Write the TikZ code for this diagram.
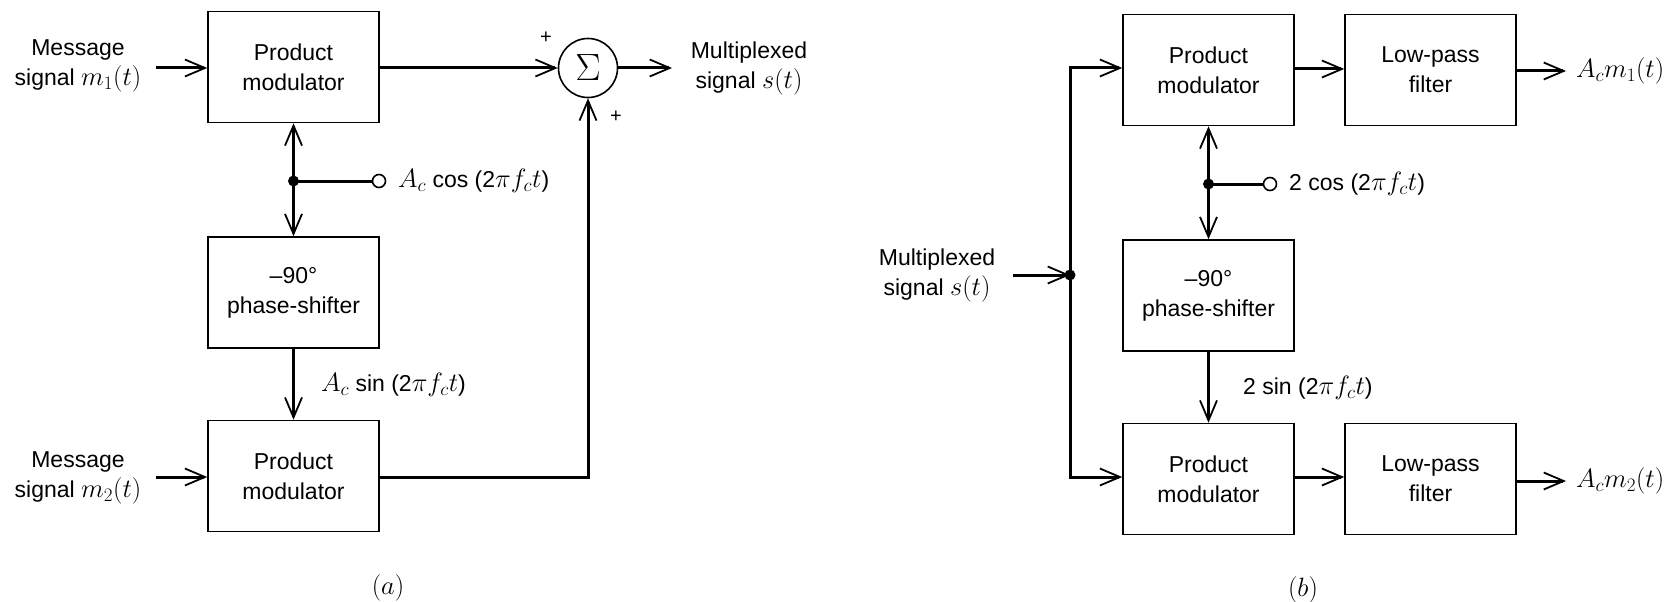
\documentclass[tikz,border=0pt]{standalone}
\usepackage{fix-cm}
\usepackage{fontspec}
\setmainfont{Liberation Sans}
\usetikzlibrary{arrows.meta}
\DeclareMathSizes{23}{26.5}{19}{15}
\newcommand\dgfont{\fontsize{23}{30}\selectfont}
\newcommand\dgsmall{\fontsize{20}{20}\selectfont}
\begin{document}
\begin{tikzpicture}[x=1pt,y=-1pt,
  >={Straight Barb[length=20pt,width=17pt,line width=1.8pt]},
  box/.style={draw, line width=1.6pt, minimum width=171pt, minimum height=111pt, inner sep=0pt, align=center, font=\dgfont},
  conn/.style={line width=3pt},
  txt/.style={font=\dgfont, inner sep=1pt, align=center},
  dot/.style={circle, fill, inner sep=0pt, minimum size=11pt},
  term/.style={circle, draw, fill=white, line width=1.6pt, inner sep=0pt, minimum size=13pt},
  sumnode/.style={circle, draw, line width=1.6pt, minimum size=59pt, inner sep=0pt, font=\fontsize{38}{38}\selectfont}]
\useasboundingbox (0,0) rectangle (1674,602);

% ---------- panel (a) ----------
\node[box] (pm1) at (293.5,67) {Product\\modulator};
\node[box] (ps1) at (293.5,292.5) {--90°\\phase-shifter};
\node[box] (pm2) at (293.5,476) {Product\\modulator};
\node[sumnode] (sum) at (588,68) {$\Sigma$};
\node[dot] (j1) at (293.5,181) {};
\node[term] (t1) at (379,181) {};

\node[txt] (m1) at (78,66) {Message\\signal $m_1(t)$};
\node[txt] (m2) at (78,478) {Message\\signal $m_2(t)$};
\node[txt] (sout) at (749,68) {Multiplexed\\signal $s(t)$};
\node[txt, anchor=west] (lc1) at (397,181) {$A_c$ cos (2$\pi f_c t$)};
\node[txt, anchor=west] (ls1) at (320,385) {$A_c$ sin (2$\pi f_c t$)};
\node[txt, font=\dgsmall] (p1) at (546,38) {+};
\node[txt, font=\dgsmall] (p2) at (616,117) {+};
\node[txt] (la) at (388,588) {$(a)$};

\coordinate (in1) at (156,68);
\coordinate (in2) at (156,477);
\coordinate (out1) at (672,68);

\draw[conn,->] (in1) -- (pm1.west |- in1);
\draw[conn,->] (in2) -- (pm2.west |- in2);
\draw[conn,->] (pm1.east |- sum) -- (sum.west);
\draw[conn,->] (sum.east) -- (out1);
\draw[conn,<->] (pm1.south) -- (ps1.north);
\draw[conn] (j1.center) -- (t1.west);
\draw[conn,->] (ps1.south) -- (pm2.north);
\draw[conn,->] (pm2.east |- in2) -| (sum.south);

% ---------- panel (b) ----------
\node[box] (pmb1) at (1208.5,70) {Product\\modulator};
\node[box] (lpf1) at (1430.5,70) {Low-pass\\filter};
\node[box] (psb) at (1208.5,295.5) {--90°\\phase-shifter};
\node[box] (pmb2) at (1208.5,479) {Product\\modulator};
\node[box] (lpf2) at (1430.5,479) {Low-pass\\filter};
\node[dot] (jb) at (1070,275) {};
\node[dot] (jb2) at (1208.5,184) {};
\node[term] (tb) at (1270,184) {};

\node[txt] (sin) at (937,275) {Multiplexed\\signal $s(t)$};
\node[txt, anchor=west] (lc2) at (1288,184) {2 cos (2$\pi f_c t$)};
\node[txt, anchor=west] (ls2) at (1242,388) {2 sin (2$\pi f_c t$)};
\node[txt, anchor=west] (o1) at (1575,71) {$A_c m_1(t)$};
\node[txt, anchor=west] (o2) at (1575,481) {$A_c m_2(t)$};
\node[txt] (lb) at (1303,590) {$(b)$};

\coordinate (inb) at (1013,275);
\coordinate (outb1) at (1566,71);
\coordinate (outb2) at (1566,481);

\draw[conn,->] (inb) -- (jb.center);
\draw[conn,->] (jb.center) |- ([yshift=2pt]pmb1.west);
\draw[conn,->] (jb.center) |- ([yshift=2pt]pmb2.west);
\draw[conn,->] ([yshift=1pt]pmb1.east) -- ([yshift=1pt]lpf1.west);
\draw[conn,->] ([yshift=2pt]pmb2.east) -- ([yshift=2pt]lpf2.west);
\draw[conn,->] (lpf1.east |- outb1) -- (outb1);
\draw[conn,->] (lpf2.east |- outb2) -- (outb2);
\draw[conn,<->] (pmb1.south) -- (psb.north);
\draw[conn] (jb2.center) -- (tb.west);
\draw[conn,->] (psb.south) -- (pmb2.north);
\end{tikzpicture}
\end{document}
